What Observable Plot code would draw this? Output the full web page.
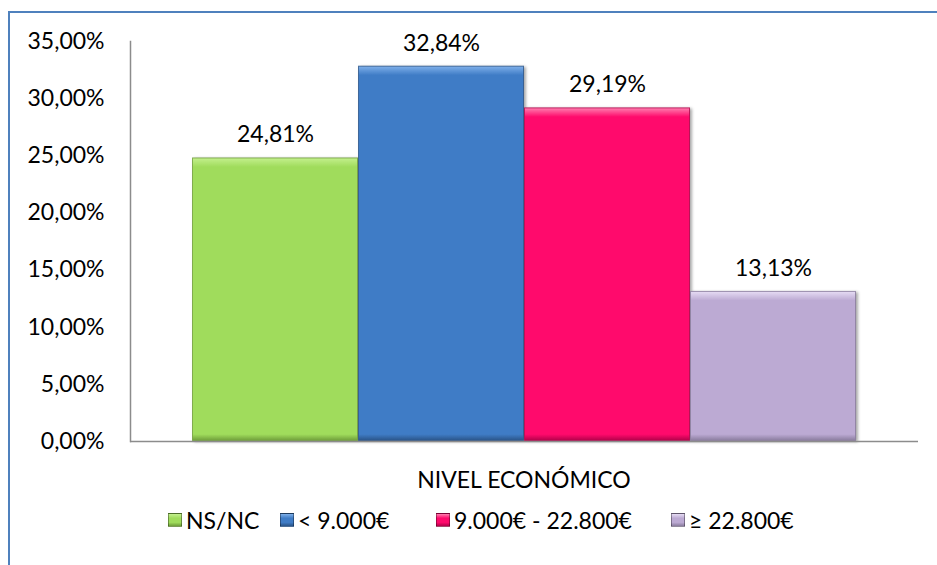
<!DOCTYPE html>
<html>
<head>
<meta charset="utf-8">
<script src="https://cdn.jsdelivr.net/npm/d3@7"></script>
<script src="https://cdn.jsdelivr.net/npm/@observablehq/plot@0.6"></script>
<style>
  html, body { margin: 0; padding: 0; background: #fff; }
  body { font-family: Lato, "Open Sans", sans-serif; color: #000; }
  #wrap { position: relative; width: 937px; height: 565px; overflow: hidden; }
  #frame { position: absolute; left: 8px; top: 11px; width: 1000px; height: 700px;
           border-left: 2px solid #4f81bd; border-top: 2px solid #4f81bd; box-sizing: border-box; pointer-events: none; }
  #chart { position: absolute; left: 0; top: 0; width: 937px; height: 455px; }
  #xtitle { position: absolute; left: 130px; width: 788px; top: 465px; text-align: center; font-size: 23px; }
  #legend { position: absolute; left: 0; width: 937px; top: 506px; height: 30px; font-size: 23px; }
  .item { position: absolute; top: 0; display: flex; align-items: center; white-space: nowrap; }
  .sw { width: 14px; height: 14px; margin-right: 4px; box-sizing: border-box; border: 1px solid rgba(0,0,0,0.35); }
  #err { position: absolute; left: 20px; top: 20px; color: red; font-size: 12px; white-space: pre; }
</style>
</head>
<body>
<div id="wrap">
<div id="frame"></div>
<div id="chart"></div>
<div id="xtitle"></div>
<div id="legend"></div>
<div id="err"></div>
</div>
<script>
const categories = ["NS/NC", "< 9.000€", "9.000€ - 22.800€", "≥ 22.800€"];
const values = [24.81, 32.84, 29.19, 13.13];
const colors = ["#a0dc5c", "#3f7cc6", "#ff0a6c", "#bcaad3"];
const lights = ["#c4f08e", "#7fb0ea", "#ff7fb0", "#e6dcf4"];
const darks = ["#6f9e3a", "#2a5488", "#b3004a", "#8a7c9e"];
const yTicks = [0, 5, 10, 15, 20, 25, 30, 35];
const xTitle = "NIVEL ECONÓMICO";
const legendLeft = [168, 280, 436, 671];

try {
const data = categories.map((c, i) => ({cat: c, value: values[i], fill: `url(#grad${i})`, stroke: darks[i]}));
const fmt = v => v.toFixed(2).replace(".", ",") + "%";

const plot = Plot.plot({
  width: 937,
  height: 455,
  marginTop: 41,
  marginBottom: 14,
  marginLeft: 130,
  marginRight: 19,
  style: {fontFamily: "Lato, 'Open Sans', sans-serif", fontSize: "23px", color: "#000"},
  x: {domain: categories, paddingInner: 0, paddingOuter: 0.366, axis: null},
  y: {domain: [0, 35], axis: null},
  color: {type: "identity"},
  marks: [
    Plot.barY(data, {x: "cat", y: "value", fill: "fill", stroke: "stroke", strokeWidth: 1, strokeOpacity: 0.8, inset: 0.5}),
    Plot.frame({anchor: "left", stroke: "#8c8c8c", strokeWidth: 1.5}),
    Plot.ruleY([0], {stroke: "#8c8c8c", strokeWidth: 1.5}),
    Plot.axisY({ticks: yTicks, tickSize: 0, tickPadding: 26, tickFormat: fmt, fontSize: 23, label: null}),
    Plot.text(data, {x: "cat", y: "value", text: d => fmt(d.value), dy: -23, fontSize: 23, fill: "#000"})
  ]
});
const y = plot.scale("y");
const svg = d3.select(plot);
const defs = svg.insert("defs", ":first-child");
values.forEach((v, i) => {
  const hPx = Math.abs(y.apply(0) - y.apply(v));
  const k = 9 / hPx;
  const g = defs.append("linearGradient").attr("id", `grad${i}`).attr("x1", 0).attr("y1", 0).attr("x2", 0).attr("y2", 1);
  g.append("stop").attr("offset", 0).attr("stop-color", lights[i]);
  g.append("stop").attr("offset", k).attr("stop-color", colors[i]);
  g.append("stop").attr("offset", 1 - k * 0.7).attr("stop-color", colors[i]);
  g.append("stop").attr("offset", 1).attr("stop-color", darks[i]);
});
document.getElementById("chart").appendChild(plot);
svg.selectAll("g[aria-label='bar'] rect").style("filter", "drop-shadow(2px 1px 1.5px rgba(0,0,0,0.35))");
} catch (e) { document.getElementById("err").textContent = String(e && e.stack || e); }

document.getElementById("xtitle").textContent = xTitle;
const legend = document.getElementById("legend");
categories.forEach((c, i) => {
  const it = document.createElement("div");
  it.className = "item";
  it.style.left = legendLeft[i] + "px";
  const sw = document.createElement("span");
  sw.className = "sw";
  sw.style.background = `linear-gradient(${lights[i]} 0%, ${colors[i]} 35%, ${colors[i]} 70%, ${darks[i]} 100%)`;
  const tx = document.createElement("span");
  tx.textContent = c;
  it.appendChild(sw); it.appendChild(tx);
  legend.appendChild(it);
});
</script>
</body>
</html>
